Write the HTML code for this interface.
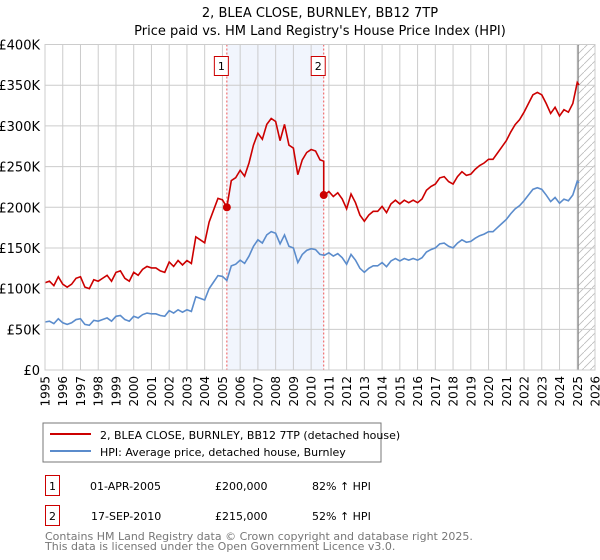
<!DOCTYPE html>
<html><head><meta charset="utf-8"><style>
body{margin:0;background:#fff;font-family:"DejaVu Sans","Liberation Sans",sans-serif;}
svg{display:block}
</style></head><body>
<svg id="chart" width="600" height="560" font-family="DejaVu Sans, Liberation Sans, sans-serif">
<text x="320" y="17" text-anchor="middle" font-size="13">2, BLEA CLOSE, BURNLEY, BB12 7TP</text>
<text x="320" y="35" text-anchor="middle" font-size="13">Price paid vs. HM Land Registry's House Price Index (HPI)</text>
<g id="plot"></g>
<rect x="43" y="423" width="338" height="39" fill="#fff" stroke="#777"/>
<line x1="50" y1="434" x2="91" y2="434" stroke="#cc0000" stroke-width="2"/>
<text x="100" y="439" font-size="11">2, BLEA CLOSE, BURNLEY, BB12 7TP (detached house)</text>
<line x1="50" y1="451" x2="91" y2="451" stroke="#5b8ccc" stroke-width="2"/>
<text x="100" y="456" font-size="11">HPI: Average price, detached house, Burnley</text>
<g font-size="11">
<rect x="45.5" y="475.5" width="14" height="20" fill="none" stroke="#cc0000"/>
<text x="52.5" y="490" text-anchor="middle">1</text>
<text x="90" y="490">01-APR-2005</text>
<text x="215" y="490">£200,000</text>
<text x="312" y="490">82% ↑ HPI</text>
<rect x="45.5" y="505.5" width="14" height="20" fill="none" stroke="#cc0000"/>
<text x="52.5" y="520" text-anchor="middle">2</text>
<text x="91" y="520">17-SEP-2010</text>
<text x="215" y="520">£215,000</text>
<text x="312" y="520">52% ↑ HPI</text>
</g>
<text x="45" y="540" font-size="11" fill="#777">Contains HM Land Registry data © Crown copyright and database right 2025.</text>
<text x="45" y="550" font-size="11" fill="#777">This data is licensed under the Open Government Licence v3.0.</text>
</svg>
<script>
const yearTicks=[1995,1996,1997,1998,1999,2000,2001,2002,2003,2004,2005,2006,2007,2008,2009,2010,2011,2012,2013,2014,2015,2016,2017,2018,2019,2020,2021,2022,2023,2024,2025,2026];
const valueTicks=[0,50000,100000,150000,200000,250000,300000,350000,400000];
const valueTickLabels=["£0","£50K","£100K","£150K","£200K","£250K","£300K","£350K","£400K"];
const hpiDates=[1995,1995.25,1995.5,1995.75,1996,1996.25,1996.5,1996.75,1997,1997.25,1997.5,1997.75,1998,1998.25,1998.5,1998.75,1999,1999.25,1999.5,1999.75,2000,2000.25,2000.5,2000.75,2001,2001.25,2001.5,2001.75,2002,2002.25,2002.5,2002.75,2003,2003.25,2003.5,2003.75,2004,2004.25,2004.5,2004.75,2005,2005.25,2005.5,2005.75,2006,2006.25,2006.5,2006.75,2007,2007.25,2007.5,2007.75,2008,2008.25,2008.5,2008.75,2009,2009.25,2009.5,2009.75,2010,2010.25,2010.5,2010.75,2011,2011.25,2011.5,2011.75,2012,2012.25,2012.5,2012.75,2013,2013.25,2013.5,2013.75,2014,2014.25,2014.5,2014.75,2015,2015.25,2015.5,2015.75,2016,2016.25,2016.5,2016.75,2017,2017.25,2017.5,2017.75,2018,2018.25,2018.5,2018.75,2019,2019.25,2019.5,2019.75,2020,2020.25,2020.5,2020.75,2021,2021.25,2021.5,2021.75,2022,2022.25,2022.5,2022.75,2023,2023.25,2023.5,2023.75,2024,2024.25,2024.5,2024.75,2025,2025.1];
const hpiValues=[59,60,57,63, 58,56,58,62, 63,56,55,61, 60,62,64,60, 66,67,62,60, 66,64,68,70, 69,69,67,66, 73,70,74,71, 74,72,90,88, 86,100,108,116, 115,110,128,130, 135,131,140,152, 160,156,166,170, 168,155,166,152, 150,132,142,147, 149,148,142,141, 144,140,143,138, 130,142,135,125, 120,125,128,128, 132,127,134,137, 134,137,135,137, 135,138,145,148, 150,155,156,152, 150,156,160,157, 158,162,165,167, 170,170,175,180, 185,192,198,202, 208,215,222,224, 222,215,207,212, 205,210,208,215, 232,230];
const saleDates=[2005.25,2010.71];
const salePrices=[200000,215000];
const ns="http://www.w3.org/2000/svg";
const X0=45,X1=595,Y0=370,Y1=44.5;
const xs=t=>X0+(t-1995)/(2026-1995)*(X1-X0);
const ys=v=>Y0-v/400000*(Y0-Y1);
const g=document.getElementById('plot');
function mk(tag,attrs,parent){const e=document.createElementNS(ns,tag);for(const k in attrs)e.setAttribute(k,attrs[k]);(parent||g).appendChild(e);return e;}
let r=mk('rect',{x:xs(saleDates[0]),y:Y1,width:xs(saleDates[1])-xs(saleDates[0]),height:Y0-Y1,fill:'#eef2fc',opacity:0.8});


const defs=mk('defs',{});
const pat=mk('pattern',{id:'hatch',width:8,height:8,patternUnits:'userSpaceOnUse'},defs);
mk('path',{d:'M0,8 L8,0',stroke:'#bbb','stroke-width':0.8},pat);
let h=mk('rect',{x:xs(2025.05),y:Y1,width:X1-xs(2025.05),height:Y0-Y1,fill:'url(#hatch)'});


yearTicks.forEach(t=>{
 let l=mk('line',{x1:xs(t),x2:xs(t),y1:Y1,y2:Y0,stroke:'#ccc','stroke-width':1});
 
 
 let tx=mk('text',{x:0,y:0,'font-size':12,'text-anchor':'end',transform:`translate(${xs(t)+4.5},376) rotate(-90)`});
 tx.textContent=t;
 
 
});
valueTicks.forEach((v,i)=>{
 let l=mk('line',{x1:X0,x2:X1,y1:ys(v),y2:ys(v),stroke:'#ccc','stroke-width':1});
 
 
 let tx=mk('text',{x:40,y:ys(v)+5,'font-size':13,'text-anchor':'end'});
 tx.textContent=valueTickLabels[i];
 
 
});
let vl=mk('line',{x1:xs(2025.05),x2:xs(2025.05),y1:Y1,y2:Y0,stroke:'#888','stroke-width':1.2});


function hpiAt(t){for(let i=0;i<hpiDates.length-1;i++){if(t>=hpiDates[i]&&t<=hpiDates[i+1]){const f=(t-hpiDates[i])/(hpiDates[i+1]-hpiDates[i]);return hpiValues[i]+f*(hpiValues[i+1]-hpiValues[i]);}}return hpiValues[hpiValues.length-1];}
saleDates.forEach((d,i)=>{
 let l=mk('line',{x1:xs(d),x2:xs(d),y1:Y1,y2:Y0,stroke:'#e55','stroke-width':1,'stroke-dasharray':'2,2'});
 
 
 let b=mk('rect',{x:xs(d)-12.5,y:56.5,width:14,height:19,fill:'#fff',stroke:'#cc0000'});
 
 
 let t=mk('text',{x:xs(d)-5.5,y:70,'font-size':11,'text-anchor':'middle'});
 t.textContent=String(i+1);
 
 
});
let hp=mk('polyline',{points:hpiDates.map((t,i)=>xs(t)+','+ys(hpiValues[i]*1000)).join(' '),fill:'none',stroke:'#5b8ccc','stroke-width':1.6});


const ratios=saleDates.map((d,i)=>salePrices[i]/(hpiAt(d)*1000));
const pts=[];
hpiDates.forEach((t,i)=>{
 if(i>0&&hpiDates[i-1]<saleDates[1]&&t>=saleDates[1]){pts.push(xs(saleDates[1])+','+ys(hpiAt(saleDates[1])*1000*ratios[0]));pts.push(xs(saleDates[1])+','+ys(salePrices[1]));}
 const rr=t<saleDates[1]?ratios[0]:ratios[1];
 pts.push(xs(t)+','+ys(hpiValues[i]*1000*rr));
});
let pl=mk('polyline',{points:pts.join(' '),fill:'none',stroke:'#cc0000','stroke-width':1.6});


saleDates.forEach((d,i)=>{
 let c=mk('circle',{cx:xs(d),cy:ys(salePrices[i]),r:4,fill:'#cc0000'});
 
 
});
let ax=mk('rect',{x:X0,y:Y1,width:X1-X0,height:Y0-Y1,fill:'none',stroke:'#ccc'});


</script>
</body></html>
